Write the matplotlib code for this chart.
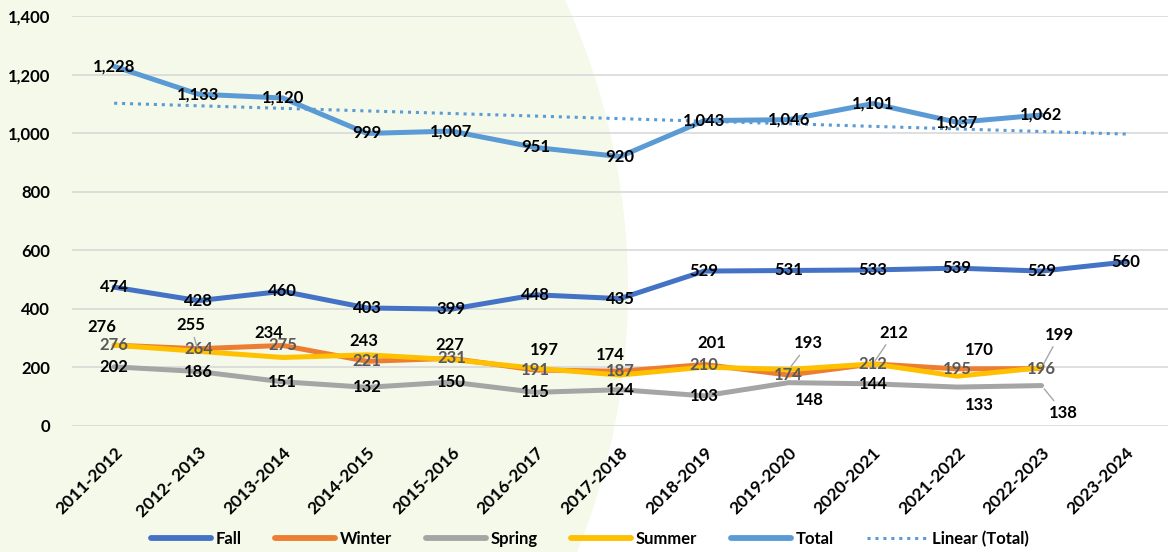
import matplotlib
matplotlib.use('Agg')
import matplotlib.pyplot as plt
from matplotlib.patches import Ellipse
from matplotlib.ticker import FuncFormatter
import numpy as np

# ---------------- data ----------------
categories = ['2011-2012', '2012- 2013', '2013-2014', '2014-2015', '2015-2016',
              '2016-2017', '2017-2018', '2018-2019', '2019-2020', '2020-2021',
              '2021-2022', '2022-2023', '2023-2024']
fall = [474, 428, 460, 403, 399, 448, 435, 529, 531, 533, 539, 529, 560]
winter = [276, 264, 275, 221, 231, 191, 187, 210, 174, 212, 195, 196]
spring = [202, 186, 151, 132, 150, 115, 124, 103, 148, 144, 133, 138]
summer = [276, 255, 234, 243, 227, 197, 174, 201, 193, 212, 170, 199]
total = [1228, 1133, 1120, 999, 1007, 951, 920, 1043, 1046, 1101, 1037, 1062]
y_ticks = [0, 200, 400, 600, 800, 1000, 1200, 1400]

# ---------------- style ----------------
FONT = ['Lato', 'DejaVu Sans']
plt.rcParams['font.family'] = FONT
plt.rcParams['font.weight'] = 'bold'

C_FALL = '#4472C4'
C_WINTER = '#ED7D31'
C_SPRING = '#A5A5A5'
C_SUMMER = '#FFC000'
C_TOTAL = '#5B9BD5'
BG_GREEN = '#F5F9EA'

W, H = 1168, 552
fig = plt.figure(figsize=(W / 100, H / 100), dpi=100)
fig.patch.set_facecolor('white')

# background shape (large pale green disc on the left)
R = 699
cx, cy = -71, 290
bg = Ellipse((cx / W, 1 - cy / H), 2 * R / W, 2 * R / H,
             transform=fig.transFigure, facecolor=BG_GREEN,
             edgecolor='none', zorder=-10)
fig.patches.append(bg)

ax_left, ax_right, ax_top, ax_bottom = 72, 1168, 16, 426
ax = fig.add_axes([ax_left / W, 1 - ax_bottom / H, (ax_right - ax_left) / W,
                   (ax_bottom - ax_top) / H])
ax.set_facecolor('none')
ax.set_zorder(1)

n = len(categories)
x_all = np.arange(n)
x12 = np.arange(len(total))

LW = 3.6
ax.plot(x_all, fall, color=C_FALL, lw=LW, label='Fall', zorder=3, solid_capstyle='round')
ax.plot(x12, winter, color=C_WINTER, lw=LW, label='Winter', zorder=3, solid_capstyle='round')
ax.plot(x12, spring, color=C_SPRING, lw=LW, label='Spring', zorder=3, solid_capstyle='round')
ax.plot(x12, summer, color=C_SUMMER, lw=LW, label='Summer', zorder=3, solid_capstyle='round')
ax.plot(x12, total, color=C_TOTAL, lw=LW, label='Total', zorder=3, solid_capstyle='round')

coef = np.polyfit(x12, total, 1)
trend = np.polyval(coef, x_all)
ax.plot(x_all, trend, color=C_TOTAL, lw=2.2, ls=(0, (1, 1.6)), label='Linear (Total)', zorder=2)

ax.set_xlim(-0.5, n - 0.5)
ax.set_ylim(0, 1400)
ax.set_yticks(y_ticks)
ax.yaxis.set_major_formatter(FuncFormatter(lambda v, p: f'{int(v):,}'))
ax.grid(axis='y', color='#D9D9D9', lw=1.2, zorder=0)
ax.set_axisbelow(True)
for s in ax.spines.values():
    s.set_visible(False)
ax.tick_params(axis='both', length=0, labelsize=12)
ax.tick_params(axis='y', pad=16)
ax.set_xticks(x_all)
ax.set_xticklabels(categories, rotation=45, ha='right', va='top',
                   rotation_mode='anchor', fontweight='bold', fontsize=12.5)
ax.tick_params(axis='x', pad=13)
for t in ax.get_yticklabels():
    t.set_fontweight('bold')

FS = 12


def label(xi, v, color='black', dx=0, dy=0, leader=False):
    kw = dict(textcoords='offset pixels', ha='center', va='center',
              fontsize=FS, fontweight='bold', color=color, zorder=6)
    if leader:
        kw['arrowprops'] = dict(arrowstyle='-', color='#A6A6A6', lw=1.0,
                                shrinkA=1, shrinkB=3)
    ax.annotate(f'{v:,}', (xi, v), xytext=(dx, dy), **kw)


for i, v in enumerate(fall):
    label(i, v)
for i, v in enumerate(total):
    label(i, v)
for i, v in enumerate(winter):
    label(i, v, color='#595959')

summer_off = [(-12, 18), (-8, 26), (-14, 24), (-3, 14), (-2, 15), (9, 18),
              (-10, 20), (8, 24), (20, 26), (21, 31), (22, 26), (18, 33)]
summer_leader = [False, True, False, False, False, False,
                 False, False, True, True, False, True]
for i, v in enumerate(summer):
    label(i, v, dx=summer_off[i][0], dy=summer_off[i][1], leader=summer_leader[i])

spring_off = [(0, 0)] * 8 + [(21, -17), (0, 0), (22, -18), (22, -27)]
spring_leader = [False] * 11 + [True]
for i, v in enumerate(spring):
    label(i, v, dx=spring_off[i][0], dy=spring_off[i][1], leader=spring_leader[i])

leg = fig.legend(loc='lower center', bbox_to_anchor=(0.505, -0.018), ncol=6,
                 frameon=False, handlelength=3.6, columnspacing=2.0,
                 handletextpad=0.3, prop={'weight': 'bold', 'size': 12})
for h in leg.get_lines():
    if h.get_linestyle() == '-':
        h.set_linewidth(4.2)

fig.savefig('out.png', dpi=100, facecolor='white')
